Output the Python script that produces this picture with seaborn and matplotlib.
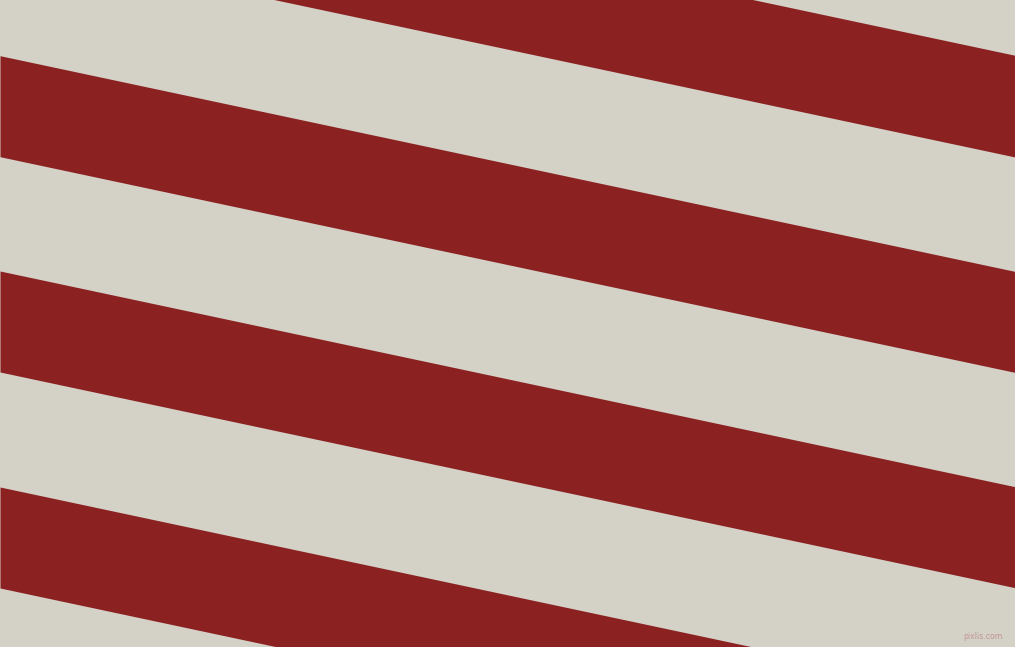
import numpy as np
import matplotlib
matplotlib.use("Agg")
import matplotlib.pyplot as plt
import seaborn as sns

# stripe edges, y where each red band meets the left edge (x = 0)
band_top = [-160.4, 55.7, 271.0, 487.0]
band_bottom = [-58.7, 156.7, 372.0, 588.0]
slope = 0.2125  # stripes drop ~12 degrees left to right

red = "#8b2121"
stone = "#d4d1c7"

sns.set_style("white")

fig = plt.figure(figsize=(10.15, 6.47), dpi=100)
ax = fig.add_axes([0, 0, 1, 1])
ax.set_facecolor(stone)

x = np.array([0, 1015])
for top, bottom in zip(band_top, band_bottom):
    ax.fill_between(x, top + slope * x, bottom + slope * x,
                    color=red, linewidth=0)

ax.text(1003, 641, "pixlis.com", color="#c29494", fontsize=5.6,
        ha="right", va="bottom")

ax.set_xlim(0, 1015)
ax.set_ylim(647, 0)
ax.axis("off")
fig.patch.set_facecolor(stone)

fig.savefig("out.png", dpi=100, facecolor=stone)
